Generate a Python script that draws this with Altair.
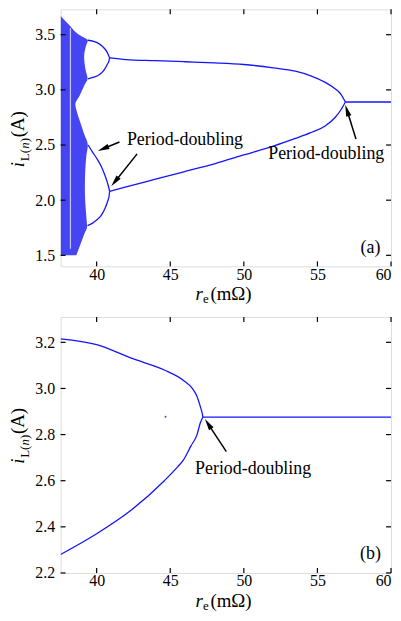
import math
import altair as alt
import pandas as pd

SERIF = "Liberation Serif"
BLUE = "#1414ff"

# ---------------- data: panel (a) ----------------
a_xdom = [37.55, 60.0]
a_ydom = [1.40, 3.73]
a_xticks = [40, 45, 50, 55, 60]
a_yticks = [1.5, 2.0, 2.5, 3.0, 3.5]

# chaotic band: right edge x for each current value (left edge = start of range)
chaos_y = [1.50, 1.60, 1.70, 1.76, 1.85, 2.00, 2.10, 2.25, 2.40, 2.50, 2.60, 2.72, 2.82, 2.87,
           2.95, 3.05, 3.10, 3.18, 3.30, 3.40, 3.45, 3.47, 3.50, 3.58, 3.67]
chaos_xr = [38.62, 38.90, 39.18, 39.35, 39.30, 39.22, 39.20, 39.22, 39.30, 39.40, 39.15, 38.85, 38.62, 38.55,
            38.85, 39.20, 39.38, 39.25, 39.15, 39.28, 39.40, 39.20, 38.80, 38.20, 37.55]
streak_x = [38.22]
streak_y = [1.56]
streak_y2 = [3.56]

# period-4 bubbles
p4_ut_x = [39.40, 39.80, 40.20, 40.50, 40.72, 40.85, 40.88]
p4_ut_y = [3.45, 3.44, 3.415, 3.38, 3.34, 3.30, 3.29]
p4_ub_x = [39.40, 39.80, 40.20, 40.50, 40.72, 40.85, 40.88]
p4_ub_y = [3.10, 3.115, 3.14, 3.18, 3.23, 3.27, 3.29]
p4_lt_x = [39.42, 39.70, 40.00, 40.30, 40.55, 40.75, 40.85, 40.88]
p4_lt_y = [2.50, 2.44, 2.38, 2.31, 2.23, 2.15, 2.10, 2.08]
p4_lb_x = [39.38, 39.70, 40.00, 40.30, 40.55, 40.75, 40.85, 40.88]
p4_lb_y = [1.77, 1.79, 1.82, 1.86, 1.92, 1.99, 2.04, 2.08]

# period-2 branches
a_p2_x = [40.88, 42.0, 44.0, 46.0, 48.0, 50.0, 52.0, 53.5, 54.5, 55.5, 56.2, 56.6, 56.9]
a_p2_up = [3.29, 3.275, 3.265, 3.255, 3.245, 3.23, 3.20, 3.17, 3.13, 3.07, 3.01, 2.96, 2.89]
a_p2_lo = [2.08, 2.12, 2.19, 2.26, 2.33, 2.41, 2.49, 2.56, 2.61, 2.67, 2.75, 2.82, 2.89]
# period-1
a_p1_x = [56.9, 60.0]
a_p1_y = [2.89, 2.89]

a_notes = ["Period-doubling", "Period-doubling", "(a)"]
a_note_x = [46.0, 55.6, 58.6]
a_note_y = [2.545, 2.42, 1.57]
a_arrow_x0 = [41.55, 42.75, 57.62]
a_arrow_y0 = [2.527, 2.42, 2.554]
a_arrow_x1 = [40.07, 40.99, 56.89]
a_arrow_y1 = [2.446, 2.125, 2.866]

# ---------------- data: panel (b) ----------------
b_xdom = [37.55, 60.0]
b_ydom = [2.20, 3.31]
b_xticks = [40, 45, 50, 55, 60]
b_yticks = [2.2, 2.4, 2.6, 2.8, 3.0, 3.2]

b_up_x = [37.55, 40.0, 42.4, 44.6, 45.9, 46.5, 46.82, 47.05, 47.18, 47.22]
b_up_y = [3.215, 3.19, 3.13, 3.08, 3.035, 3.00, 2.965, 2.92, 2.89, 2.876]
b_lo_x = [37.55, 40.0, 42.4, 44.6, 45.5, 45.9, 46.4, 46.82, 47.04, 47.22]
b_lo_y = [2.28, 2.37, 2.475, 2.60, 2.66, 2.69, 2.75, 2.80, 2.85, 2.876]
b_p1_x = [47.22, 60.0]
b_p1_y = [2.876, 2.876]
b_stray_x = [44.68]
b_stray_y = [2.877]

b_notes = ["Period-doubling", "(b)"]
b_note_x = [50.63, 58.6]
b_note_y = [2.65, 2.28]
b_arrow_x0 = [48.81]
b_arrow_y0 = [2.726]
b_arrow_x1 = [47.35]
b_arrow_y1 = [2.868]

W = 333
HA = 259
HB = 258
HEAD = "M0,-1L0.46,1L-0.46,1Z"


def make_enc(xd, yd, xticks, yticks):
    xs = alt.Scale(domain=xd, nice=False, zero=False)
    ys = alt.Scale(domain=yd, nice=False, zero=False)
    ax = alt.Axis(values=xticks, format="d", title=None, ticks=False, domain=False, grid=False,
                  labelFont=SERIF, labelFontSize=16, labelColor="black", labelPadding=0,
                  labelOverlap=False, labelFlush=True)
    ay = alt.Axis(values=yticks, format=".1f", title=None, ticks=False, domain=False, grid=False,
                  labelFont=SERIF, labelFontSize=16, labelColor="black", labelPadding=6,
                  labelOverlap=False, labelFlush=False)

    def X(f):
        return alt.X(f, scale=xs, axis=ax, title=None)

    def Y(f):
        return alt.Y(f, scale=ys, axis=ay, title=None)
    return X, Y


def lines_df(branches):
    rows = []
    for name, xs, ys in branches:
        for i, (x, y) in enumerate(zip(xs, ys)):
            rows.append({"b": name, "x": x, "y": y, "o": i})
    return pd.DataFrame(rows)


def arrows(xd, yd, H, x0s, y0s, x1s, y1s):
    sx = W / (xd[1] - xd[0])
    sy = H / (yd[1] - yd[0])
    seg, heads = [], []
    for i, (x0, y0, x1, y1) in enumerate(zip(x0s, y0s, x1s, y1s)):
        dxp = (x1 - x0) * sx
        dyp = -(y1 - y0) * sy
        L = math.hypot(dxp, dyp)
        ux, uy = dxp / L, dyp / L
        hx = x1 - ux * 6 / sx
        hy = y1 + uy * 6 / sy
        ang = math.degrees(math.atan2(dxp, -dyp)) % 360
        seg.append({"k": i, "x": x0, "y": y0, "o": 0})
        seg.append({"k": i, "x": hx, "y": hy, "o": 1})
        heads.append({"x": hx, "y": hy, "ang": ang})
    return pd.DataFrame(seg), pd.DataFrame(heads)


def txt(text, x, y, size, italic=False, angle=0):
    return alt.Chart(pd.DataFrame({"t": [text]})).mark_text(
        font=SERIF, fontSize=size, fontStyle="italic" if italic else "normal",
        align="left", baseline="alphabetic", angle=angle, color="black"
    ).encode(text="t:N", x=alt.value(x), y=alt.value(y))


def ytitle(start):
    bx, sb = -37, -32
    return [
        txt("i", bx, start, 19, True, 270),
        txt("L(", sb, start - 6, 13, False, 270),
        txt("n", sb, start - 18.5, 13, True, 270),
        txt(")", sb, start - 25, 13, False, 270),
        txt("(A)", bx, start - 30, 19, False, 270),
    ]


def xtitle(H):
    base = H + 34
    x0 = 136
    return [
        txt("r", x0, base, 19, True),
        txt("e", x0 + 7.5, base + 3, 13, False),
        txt("(mΩ)", x0 + 15, base, 19, False),
    ]


def ticks(X, Y, xticks, yticks, H):
    xdf = pd.DataFrame({"v": xticks})
    ydf = pd.DataFrame({"v": yticks})
    L = 5
    out = []
    for ya, yb in [(0, L), (H, H - L)]:
        out.append(alt.Chart(xdf).mark_rule(color="black", strokeWidth=1.2).encode(
            x=X("v:Q"), y=alt.value(ya), y2=alt.value(yb)))
    for xa, xb in [(0, L), (W, W - L)]:
        out.append(alt.Chart(ydf).mark_rule(color="black", strokeWidth=1.2).encode(
            y=Y("v:Q"), x=alt.value(xa), x2=alt.value(xb)))
    return out


def branch_layer(df, X, Y):
    return alt.Chart(df).mark_line(color=BLUE, strokeWidth=1.3, clip=True, interpolate="monotone").encode(
        x=X("x:Q"), y=Y("y:Q"), detail="b:N", order="o:Q")


def arrow_layers(seg, heads, X, Y):
    return [
        alt.Chart(seg).mark_line(color="black", strokeWidth=1.5).encode(
            x=X("x:Q"), y=Y("y:Q"), detail="k:N", order="o:Q"),
        alt.Chart(heads).mark_point(shape=HEAD, filled=True, color="black", opacity=1, size=140).encode(
            x=X("x:Q"), y=Y("y:Q"), angle=alt.Angle("ang:Q", scale=None)),
    ]


def notes_layer(texts, nx, ny, X, Y):
    df = pd.DataFrame({"t": texts, "x": nx, "y": ny})
    return alt.Chart(df).mark_text(font=SERIF, fontSize=18, color="black", align="center",
                                   baseline="middle").encode(
        x=X("x:Q"), y=Y("y:Q"), text="t:N")


# ---------------- panel (a) ----------------
AX, AY = make_enc(a_xdom, a_ydom, a_xticks, a_yticks)
chaos_df = pd.DataFrame({"cy": chaos_y, "cx": chaos_xr, "cx0": [a_xdom[0]] * len(chaos_y)})
chaos = alt.Chart(chaos_df).mark_area(orient="horizontal", color="#1c1cf2", opacity=0.82, clip=True,
                                      interpolate="monotone").encode(
    y=AY("cy:Q"), x=AX("cx:Q"), x2="cx0:Q")
streak = alt.Chart(pd.DataFrame({"x": streak_x, "y": streak_y, "y2": streak_y2})).mark_rule(
    color="white", strokeWidth=1.2, opacity=0.7).encode(
    x=AX("x:Q"), y=AY("y:Q"), y2="y2:Q")

a_lines = lines_df([
    ("ut", p4_ut_x, p4_ut_y), ("ub", p4_ub_x, p4_ub_y),
    ("lt", p4_lt_x, p4_lt_y), ("lb", p4_lb_x, p4_lb_y),
    ("up", a_p2_x, a_p2_up), ("lo", a_p2_x, a_p2_lo), ("p1", a_p1_x, a_p1_y),
])
a_seg, a_heads = arrows(a_xdom, a_ydom, HA, a_arrow_x0, a_arrow_y0, a_arrow_x1, a_arrow_y1)

panel_a = alt.layer(
    chaos, streak, branch_layer(a_lines, AX, AY),
    *arrow_layers(a_seg, a_heads, AX, AY),
    notes_layer(a_notes, a_note_x, a_note_y, AX, AY),
    *ticks(AX, AY, a_xticks, a_yticks, HA),
    *ytitle(159), *xtitle(HA),
).properties(width=W, height=HA)

# ---------------- panel (b) ----------------
BX, BY = make_enc(b_xdom, b_ydom, b_xticks, b_yticks)
b_lines = lines_df([("up", b_up_x, b_up_y), ("lo", b_lo_x, b_lo_y), ("p1", b_p1_x, b_p1_y)])
b_seg, b_heads = arrows(b_xdom, b_ydom, HB, b_arrow_x0, b_arrow_y0, b_arrow_x1, b_arrow_y1)
stray = alt.Chart(pd.DataFrame({"x": b_stray_x, "y": b_stray_y})).mark_circle(
    color=BLUE, size=4, opacity=0.8).encode(x=BX("x:Q"), y=BY("y:Q"))

panel_b = alt.layer(
    branch_layer(b_lines, BX, BY), stray,
    *arrow_layers(b_seg, b_heads, BX, BY),
    notes_layer(b_notes, b_note_x, b_note_y, BX, BY),
    *ticks(BX, BY, b_xticks, b_yticks, HB),
    *ytitle(148), *xtitle(HB),
).properties(width=W, height=HB)

chart = alt.vconcat(panel_a, panel_b, spacing=8).properties(
    padding={"left": 0, "top": -3, "right": 0, "bottom": 0}
).configure_view(stroke="black", strokeWidth=1.6).configure(background="white")

chart.save("out.html", embed_options={"renderer": "svg", "actions": False})
